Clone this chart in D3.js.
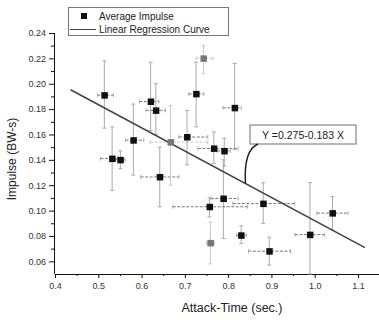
<!DOCTYPE html>
<html lang="en">
<head>
<meta charset="UTF-8">
<title>Impulse vs Attack-Time</title>
<style>
  body { margin: 0; background: #fff; }
  svg text { font-family: "Liberation Sans", Arial, sans-serif; fill: #222; }
  .axis path, .axis line { stroke: #111; }
  .axis text { font-size: 9px; fill: #333; }
</style>
</head>
<body>
<div id="chart"></div>
<script src="https://d3js.org/d3.v7.min.js"></script>
<script>
// attack time (sec.) and average impulse (BW-s)
var attackTime = [0.514, 0.621, 0.633, 0.581, 0.532, 0.551, 0.642, 0.667, 0.705, 0.743,
                  0.726, 0.815, 0.767, 0.791, 0.789, 0.757, 0.759, 0.881, 0.830, 0.895,
                  0.989, 1.041];
var impulse    = [0.191, 0.186, 0.179, 0.1555, 0.141, 0.140, 0.1265, 0.154, 0.158, 0.220,
                  0.192, 0.181, 0.149, 0.147, 0.1095, 0.103, 0.0745, 0.1055, 0.0805, 0.068,
                  0.081, 0.098];
// error bar extents
var xLow  = [0.498, 0.595, 0.610, 0.563, 0.505, 0.540, 0.598, 0.620, 0.686, 0.726,
             0.709, 0.788, 0.730, 0.775, 0.760, 0.672, 0.750, 0.811, 0.819, 0.847,
             0.954, 1.005];
var xHigh = [0.535, 0.640, 0.655, 0.605, 0.545, 0.562, 0.686, 0.753, 0.753, 0.765,
             0.744, 0.830, 0.823, 0.805, 0.823, 0.845, 0.768, 0.954, 0.842, 0.944,
             1.023, 1.077];
var yLow  = [0.165, 0.163, 0.160, 0.128, 0.116, 0.133, 0.103, 0.120, 0.136, 0.208,
             0.166, 0.148, 0.137, 0.135, 0.078, 0.095, 0.058, 0.090, 0.074, 0.057,
             0.050, 0.0845];
var yHigh = [0.218, 0.217, 0.200, 0.184, 0.166, 0.147, 0.150, 0.183, 0.179, 0.230,
             0.217, 0.216, 0.162, 0.157, 0.140, 0.110, 0.091, 0.122, 0.088, 0.079,
             0.122, 0.111];
var faded = [7, 9, 16];

var xTicks = [0.4, 0.5, 0.6, 0.7, 0.8, 0.9, 1.0, 1.1];
var yTicks = [0.06, 0.08, 0.10, 0.12, 0.14, 0.16, 0.18, 0.20, 0.22, 0.24];
var fitA = 0.275, fitB = -0.183, fitRange = [0.436, 1.116];

var width = 379, height = 320;
var svg = d3.select("#chart").append("svg").attr("width", width).attr("height", height);

var x = d3.scaleLinear().domain([0.4, 1.1]).range([55, 358]);
var y = d3.scaleLinear().domain([0.05, 0.24]).range([274, 33]);
var xMax = x.invert(379);

// minor ticks
svg.append("g").attr("class", "axis")
  .attr("transform", "translate(0,274)")
  .call(d3.axisBottom(x).tickValues(d3.range(0.45, xMax, 0.1)).tickSize(2).tickFormat(""))
  .select(".domain").remove();
svg.append("g").attr("class", "axis")
  .attr("transform", "translate(54,0)")
  .call(d3.axisLeft(y).tickValues(d3.range(0.07, 0.24, 0.02)).tickSize(3).tickFormat(""))
  .select(".domain").remove();

// major axes
var xAxis = svg.append("g").attr("class", "axis")
  .attr("transform", "translate(0,274)")
  .call(d3.axisBottom(x).tickValues(xTicks).tickSize(4).tickSizeOuter(0).tickPadding(5)
    .tickFormat(d3.format(".1f")));
xAxis.select(".domain").attr("d", "M" + x(0.4) + ",0.5H379");

var yAxis = svg.append("g").attr("class", "axis")
  .attr("transform", "translate(54,0)")
  .call(d3.axisLeft(y).tickValues(yTicks).tickSize(5).tickSizeOuter(0).tickPadding(3)
    .tickFormat(d3.format(".2f")));
yAxis.select(".domain").attr("d", "M0.5," + y(0.24) + "V274");

// axis titles
svg.append("text").attr("x", 232).attr("y", 312).attr("text-anchor", "middle")
  .attr("font-size", 12.5).attr("fill", "#333").text("Attack-Time (sec.)");
svg.append("text").attr("transform", "translate(16,159) rotate(-90)")
  .attr("text-anchor", "middle").attr("font-size", 12).attr("fill", "#333").text("Impulse (BW-s)");

// error bars
var idx = d3.range(attackTime.length);
var cap = 2;
var eb = svg.append("g").attr("stroke-width", 1);
idx.forEach(function(i) {
  var c = faded.indexOf(i) >= 0 ? "#c8c8c8" : "#ababab";
  var px = x(attackTime[i]), py = y(impulse[i]);
  var g = eb.append("g").attr("stroke", c);
  g.append("line").attr("x1", px).attr("x2", px).attr("y1", y(yLow[i])).attr("y2", y(yHigh[i]));
  g.append("line").attr("x1", px - cap).attr("x2", px + cap).attr("y1", y(yLow[i])).attr("y2", y(yLow[i]));
  g.append("line").attr("x1", px - cap).attr("x2", px + cap).attr("y1", y(yHigh[i])).attr("y2", y(yHigh[i]));
  g.append("line").attr("x1", x(xLow[i])).attr("x2", x(xHigh[i])).attr("y1", py).attr("y2", py)
    .attr("stroke", faded.indexOf(i) >= 0 ? "#c8c8c8" : "#777").attr("stroke-dasharray", "3,1.5");
  g.append("line").attr("x1", x(xLow[i])).attr("x2", x(xLow[i])).attr("y1", py - cap).attr("y2", py + cap);
  g.append("line").attr("x1", x(xHigh[i])).attr("x2", x(xHigh[i])).attr("y1", py - cap).attr("y2", py + cap);
});

// regression line
svg.append("line")
  .attr("x1", x(fitRange[0])).attr("y1", y(fitA + fitB * fitRange[0]))
  .attr("x2", x(fitRange[1])).attr("y2", y(fitA + fitB * fitRange[1]))
  .attr("stroke", "#444").attr("stroke-width", 1.6);

// points
svg.append("g").selectAll("rect").data(idx).enter().append("rect")
  .attr("x", function(i) { return x(attackTime[i]) - 3; })
  .attr("y", function(i) { return y(impulse[i]) - 3; })
  .attr("width", 6.5).attr("height", 6.5)
  .attr("fill", function(i) { return faded.indexOf(i) >= 0 ? "#777" : "#111"; });

// equation label
svg.append("rect").attr("x", 250).attr("y", 125).attr("width", 106).attr("height", 19)
  .attr("fill", "#fff").attr("stroke", "#888").attr("stroke-width", 1.2);
svg.append("text").attr("x", 303).attr("y", 138.5).attr("text-anchor", "middle")
  .attr("font-size", 10.5).text("Y =0.275-0.183 X");
var ax = x(0.84), ay = y(fitA + fitB * 0.84);
svg.append("path")
  .attr("d", "M258,144 Q" + (ax - 2) + ",150 " + ax + "," + ay)
  .attr("fill", "none").attr("stroke", "#222").attr("stroke-width", 1.5);

// legend
var lg = svg.append("g");
lg.append("rect").attr("x", 68.5).attr("y", 7.5).attr("width", 160).attr("height", 28)
  .attr("fill", "#fff").attr("stroke", "#777");
lg.append("rect").attr("x", 81).attr("y", 13).attr("width", 6).attr("height", 6).attr("fill", "#111");
lg.append("text").attr("x", 99).attr("y", 19.5).attr("font-size", 10).attr("fill", "#333").text("Average Impulse");
lg.append("line").attr("x1", 70).attr("x2", 96).attr("y1", 29.5).attr("y2", 29.5).attr("stroke", "#444");
lg.append("text").attr("x", 99).attr("y", 33).attr("font-size", 10).attr("fill", "#333").text("Linear Regression Curve");
</script>
</body>
</html>
